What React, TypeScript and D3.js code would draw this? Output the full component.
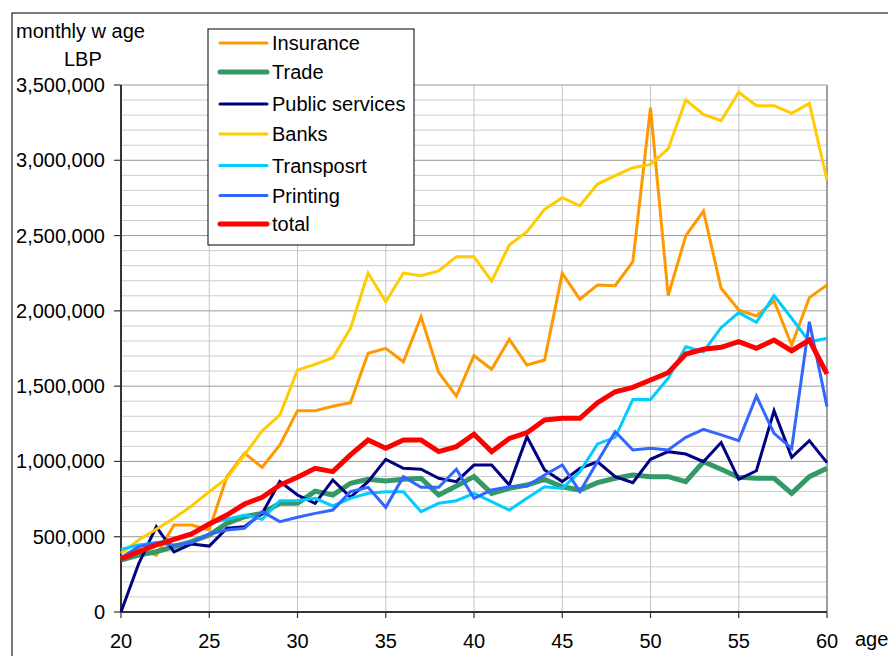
import React from "react";
import * as d3 from "d3";

const ages = [20,21,22,23,24,25,26,27,28,29,30,31,32,33,34,35,36,37,38,39,40,41,42,43,44,45,46,47,48,49,50,51,52,53,54,55,56,57,58,59,60];

// monthly wage, thousands of LBP
const insuranceK = [360,420,378,578,578,545,899,1054,961,1109,1337,1337,1366,1390,1718,1751,1662,1961,1591,1434,1702,1612,1811,1640,1674,2249,2077,2172,2167,2327,3349,2101,2499,2663,2150,2006,1966,2066,1773,2088,2172];
const tradeK = [345,378,400,434,467,511,589,633,655,722,722,803,777,855,881,870,881,888,777,837,899,788,822,843,881,832,810,859,888,910,899,899,865,998,948,895,888,888,788,899,954];
const publicK = [0,320,567,400,452,438,556,567,655,866,777,722,877,762,866,1014,954,948,888,866,976,976,843,1164,943,866,954,998,899,859,1014,1065,1049,998,1125,881,938,1337,1027,1138,992];
const banksK = [390,478,549,622,704,799,888,1043,1204,1308,1607,1645,1689,1884,2251,2061,2251,2234,2265,2360,2360,2198,2437,2526,2674,2752,2698,2842,2898,2951,2973,3075,3400,3305,3263,3452,3363,3363,3312,3378,2869];
const transportK = [416,445,460,483,523,589,616,644,616,739,739,755,704,755,788,799,799,666,722,739,788,733,677,755,832,821,932,1116,1160,1412,1412,1552,1762,1729,1888,1988,1924,2101,1951,1795,1818];
const printingK = [360,434,460,445,460,518,545,556,666,600,629,655,677,799,828,695,899,828,828,948,755,810,832,837,910,976,799,1000,1198,1076,1087,1076,1160,1213,1176,1138,1434,1187,1087,1928,1364];
const totalK = [352,400,445,483,518,584,644,717,762,843,895,954,932,1043,1142,1087,1142,1142,1065,1098,1180,1065,1153,1191,1275,1286,1286,1390,1463,1492,1541,1589,1713,1745,1758,1795,1751,1806,1735,1806,1581];

const seriesNames = ["Insurance", "Trade", "Public services", "Banks", "Transposrt", "Printing", "total"];
const seriesValues = [insuranceK, tradeK, publicK, banksK, transportK, printingK, totalK];
const seriesColors = ["#FF9900", "#339966", "#000080", "#FFCC00", "#00CCFF", "#3366FF", "#FF0000"];
const seriesWidths = [3, 5, 3, 3, 3, 3, 5];

const xTicks = [20, 25, 30, 35, 40, 45, 50, 55, 60];
const yMajorTicks = [0, 500, 1000, 1500, 2000, 2500, 3000, 3500];
const yMinorTicks = d3.range(0, 3501, 100);

const FONT = "'Liberation Sans', Arial, sans-serif";

export default function App() {
  const x = d3.scaleLinear().domain([20, 60]).range([121, 827]);
  const y = d3.scaleLinear().domain([0, 3500]).range([612, 85]);
  const fmt = d3.format(",");
  const line = d3
    .line<number>()
    .x((_, i) => x(ages[i]))
    .y((d) => y(d));

  const legendX = 208;
  const legendY = 29;
  const legendRowY = [43, 72, 104, 134, 165.5, 195.5, 224];

  return (
    <div style={{ position: "fixed", left: 0, top: 0 }}>
      <svg width={888} height={656} style={{ display: "block", background: "#fff" }}>
        <rect x={12} y={13} width={900} height={700} fill="#fff" stroke="#222" strokeWidth={1.2} />
        {/* minor gridlines */}
        {yMinorTicks.filter((v) => v % 500 !== 0).map((v) => (
          <line key={"mn" + v} x1={121} x2={827} y1={y(v)} y2={y(v)} stroke="#cccccc" strokeWidth={1} />
        ))}
        {/* vertical gridlines */}
        {xTicks.filter((v) => v !== 20).map((v) => (
          <line key={"vx" + v} x1={x(v)} x2={x(v)} y1={85} y2={612} stroke="#c4c4c4" strokeWidth={1} />
        ))}
        {/* major gridlines */}
        {yMajorTicks.filter((v) => v !== 0).map((v) => (
          <line key={"mj" + v} x1={121} x2={827} y1={y(v)} y2={y(v)} stroke="#999999" strokeWidth={1} />
        ))}
        <line x1={827} x2={827} y1={85} y2={612} stroke="#888" strokeWidth={1.5} />
        {/* axes */}
        <line x1={121} x2={121} y1={85} y2={612} stroke="#333" strokeWidth={2} />
        <line x1={121} x2={827} y1={612} y2={612} stroke="#333" strokeWidth={2} />
        {yMajorTicks.map((v) => (
          <g key={"yt" + v}>
            <line x1={114} x2={121} y1={y(v)} y2={y(v)} stroke="#333" strokeWidth={1.2} />
            <text x={105} y={y(v)} dy="0.35em" textAnchor="end" fontFamily={FONT} fontSize={20} fill="#000">
              {fmt(v * 1000)}
            </text>
          </g>
        ))}
        {xTicks.map((v) => (
          <g key={"xt" + v}>
            <line x1={x(v)} x2={x(v)} y1={612} y2={618} stroke="#333" strokeWidth={1.2} />
            <text x={x(v)} y={648} textAnchor="middle" fontFamily={FONT} fontSize={20} fill="#000">
              {v}
            </text>
          </g>
        ))}
        <text x={855} y={646} fontFamily={FONT} fontSize={20} fill="#000">age</text>
        <text x={16} y={38} fontFamily={FONT} fontSize={20} fill="#000">monthly w age</text>
        <text x={64} y={66} fontFamily={FONT} fontSize={20} fill="#000">LBP</text>
        {/* series */}
        {seriesValues.map((vals, i) => (
          <path
            key={"s" + i}
            d={line(vals) || ""}
            fill="none"
            stroke={seriesColors[i]}
            strokeWidth={seriesWidths[i]}
            strokeLinejoin="miter"
            strokeMiterlimit={4}
          />
        ))}
        {/* legend */}
        <rect x={legendX} y={legendY} width={206} height={216} fill="#fff" stroke="#000" strokeWidth={1} />
        {seriesNames.map((name, i) => (
          <g key={"lg" + i}>
            <line x1={220} x2={267} y1={legendRowY[i]} y2={legendRowY[i]} stroke={seriesColors[i]} strokeWidth={seriesWidths[i]} strokeLinecap="round" />
            <text x={272} y={legendRowY[i]} dy="0.35em" fontFamily={FONT} fontSize={20} fill="#000">
              {name}
            </text>
          </g>
        ))}
      </svg>
    </div>
  );
}
